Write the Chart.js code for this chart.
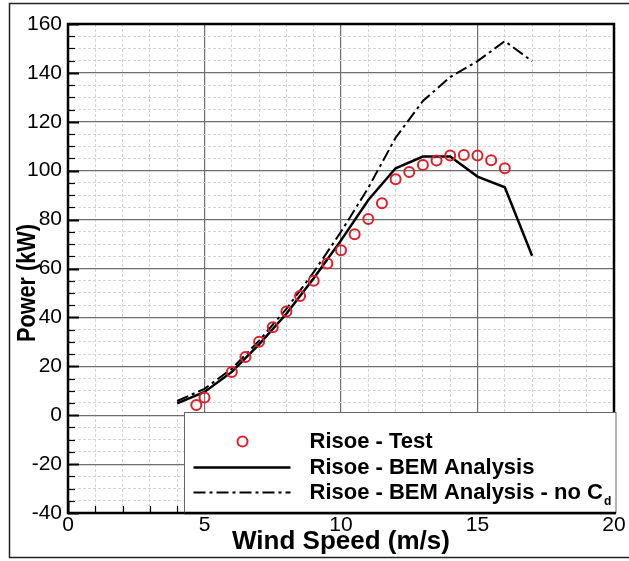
<!DOCTYPE html>
<html>
<head>
<meta charset="utf-8">
<script src="https://cdn.jsdelivr.net/npm/chart.js@4.4.1/dist/chart.umd.min.js"></script>
<style>
  html, body { margin: 0; padding: 0; background: #fff; }
  #wrap { width: 629px; height: 561px; }
</style>
</head>
<body>
<div id="wrap"><canvas id="myChart" width="629" height="561"></canvas></div>
<script>
// Risoe - Test (measured points)
const testSpeed = [4.7, 5, 6, 6.5, 7, 7.5, 8, 8.5, 9, 9.5, 10, 10.5, 11, 11.5, 12, 12.5, 13, 13.5, 14, 14.5, 15, 15.5, 16]
const testPower = [4.2, 7.2, 17.7, 23.8, 30, 36, 42.4, 48.8, 55, 62, 67.5, 74, 80.2, 86.7, 96.5, 99.5, 102.3, 104.2, 106.2, 106.4, 106.2, 104.3, 101]

// BEM analysis curves
const bemSpeed = [4, 5, 6, 7, 8, 9, 10, 11, 12, 13, 14, 15, 16, 17]
const bemPower = [4.8, 9.5, 17.7, 29, 41.5, 56, 71.5, 88, 101, 105.8, 105.8, 97.6, 93.2, 65.2]
const noCdPower = [5.8, 10.8, 19, 30.5, 43.5, 58.5, 75, 93, 113.5, 128.5, 138.3, 144.8, 153, 144.8]

const legendLabels = ['Risoe - Test', 'Risoe - BEM Analysis', 'Risoe - BEM Analysis - no C']
const yTitle = 'Power (kW)'

const FONT = "'Liberation Sans', Arial, sans-serif"
const RED = '#dd1f2a'
const DASHDOT = [12, 4, 3, 4]

const pairs = (xs, ys) => xs.map((v, i) => ({ x: v, y: ys[i] }))

// ticks pointing inward, plot frame, legend box, y title and outer frame
const decorations = {
  id: 'decorations',
  afterDraw (chart) {
    const { ctx, chartArea: a, scales: { x, y } } = chart
    ctx.save()
    ctx.strokeStyle = '#000'

    y.ticks.forEach(t => {
      const py = Math.round(y.getPixelForValue(t.value)) + 0.5
      const major = t.value % 20 === 0
      ctx.lineWidth = major ? 2 : 1.2
      ctx.beginPath()
      ctx.moveTo(a.left, py)
      ctx.lineTo(a.left + (major ? 11 : 7), py)
      ctx.stroke()
    })
    x.ticks.forEach(t => {
      const px = Math.round(x.getPixelForValue(t.value)) + 0.5
      const major = t.value % 5 === 0
      ctx.lineWidth = major ? 2 : 1.2
      ctx.beginPath()
      ctx.moveTo(px, a.bottom)
      ctx.lineTo(px, a.bottom - (major ? 11 : 7))
      ctx.stroke()
    })

    ctx.lineWidth = 2.5
    ctx.strokeRect(a.left, a.top, a.right - a.left, a.bottom - a.top)

    // legend
    const lx = a.left + 116.5
    const ly = a.bottom - 100.5
    const lw = a.right + 2 - lx
    const lh = 100
    ctx.fillStyle = '#fff'
    ctx.fillRect(lx, ly, lw, lh)
    ctx.lineWidth = 1
    ctx.strokeStyle = '#666'
    ctx.strokeRect(lx, ly, lw, lh)
    ctx.lineWidth = 2.5
    ctx.strokeStyle = '#000'
    ctx.beginPath()
    ctx.moveTo(lx, a.bottom)
    ctx.lineTo(lx + lw, a.bottom)
    ctx.stroke()

    const rows = [ly + 29, ly + 55, ly + 80]
    ctx.strokeStyle = RED
    ctx.lineWidth = 2
    ctx.beginPath()
    ctx.arc(lx + 58, rows[0], 5, 0, Math.PI * 2)
    ctx.stroke()

    ctx.strokeStyle = '#000'
    ctx.lineWidth = 2.5
    ctx.beginPath()
    ctx.moveTo(lx + 9, rows[1])
    ctx.lineTo(lx + 106, rows[1])
    ctx.stroke()

    ctx.lineWidth = 2
    ctx.setLineDash(DASHDOT)
    ctx.beginPath()
    ctx.moveTo(lx + 9, rows[2])
    ctx.lineTo(lx + 106, rows[2])
    ctx.stroke()
    ctx.setLineDash([])

    ctx.fillStyle = '#000'
    ctx.font = 'bold 22px ' + FONT
    ctx.textBaseline = 'middle'
    ctx.textAlign = 'left'
    legendLabels.forEach((txt, i) => ctx.fillText(txt, lx + 125, rows[i]))
    const w3 = ctx.measureText(legendLabels[2]).width
    ctx.font = 'bold 12px ' + FONT
    ctx.fillText('d', lx + 125 + w3 + 1, rows[2] + 9)

    // y axis title, slightly condensed as in the figure
    ctx.save()
    ctx.translate(28, 283)
    ctx.rotate(-Math.PI / 2)
    ctx.font = 'bold 26px ' + FONT
    ctx.textAlign = 'center'
    ctx.textBaseline = 'middle'
    const tw = ctx.measureText(yTitle).width
    ctx.scale(118 / tw, 1)
    ctx.fillText(yTitle, 0, 0)
    ctx.restore()

    // outer frame of the figure
    ctx.lineWidth = 1.5
    ctx.strokeStyle = '#222'
    ctx.strokeRect(9.5, 3.5, 640, 554)
    ctx.restore()
  }
}

const ctx = document.getElementById('myChart').getContext('2d')

const myChart = new Chart(ctx, {
  type: 'scatter',
  data: {
    datasets: [{
      label: legendLabels[0],
      data: pairs(testSpeed, testPower),
      showLine: false,
      pointStyle: 'circle',
      pointRadius: 5,
      pointBorderWidth: 2,
      pointBorderColor: RED,
      pointBackgroundColor: 'rgba(0,0,0,0)'
    }, {
      label: legendLabels[1],
      data: pairs(bemSpeed, bemPower),
      showLine: true,
      borderColor: '#000',
      borderWidth: 2.5,
      pointRadius: 0,
      tension: 0
    }, {
      label: legendLabels[2],
      data: pairs(bemSpeed, noCdPower),
      showLine: true,
      borderColor: '#000',
      borderWidth: 2,
      borderDash: DASHDOT,
      pointRadius: 0,
      tension: 0
    }]
  },
  options: {
    responsive: false,
    animation: false,
    devicePixelRatio: 1,
    layout: { padding: { left: 0, top: 24, right: 15, bottom: 0 } },
    plugins: { legend: { display: false }, tooltip: { enabled: false } },
    scales: {
      x: {
        type: 'linear',
        min: 0,
        max: 20,
        afterFit: (s) => { s.height = 48 },
        ticks: {
          stepSize: 1,
          autoSkip: false,
          maxRotation: 0,
          padding: 0,
          color: '#000',
          font: { family: FONT, size: 21 },
          callback: (v) => (v % 5 === 0 ? v : '')
        },
        grid: {
          drawTicks: false,
          color: (c) => (c.tick && c.tick.value % 5 === 0 ? '#6e6e6e' : '#d4d4d4'),
          lineWidth: (c) => (c.tick && c.tick.value % 5 === 0 ? 1.2 : 1)
        },
        border: {
          display: false,
          dash: (c) => (c.tick && c.tick.value % 5 === 0 ? [] : [3, 2])
        },
        title: {
          display: true,
          text: 'Wind Speed (m/s)',
          color: '#000',
          padding: { top: 0, bottom: 4 },
          font: { family: FONT, size: 26, weight: 'bold' }
        }
      },
      y: {
        type: 'linear',
        min: -40,
        max: 160,
        afterFit: (s) => { s.width = 68 },
        ticks: {
          stepSize: 5,
          autoSkip: false,
          maxTicksLimit: 100,
          padding: 6,
          color: '#000',
          font: { family: FONT, size: 21 },
          callback: (v) => (v % 20 === 0 ? v : '')
        },
        grid: {
          drawTicks: false,
          color: (c) => (c.tick && c.tick.value % 20 === 0 ? '#6e6e6e' : '#d4d4d4'),
          lineWidth: (c) => (c.tick && c.tick.value % 20 === 0 ? 1.2 : 1)
        },
        border: {
          display: false,
          dash: (c) => (c.tick && c.tick.value % 20 === 0 ? [] : [3, 2])
        },
        title: { display: false }
      }
    }
  },
  plugins: [decorations]
})
</script>
</body>
</html>
